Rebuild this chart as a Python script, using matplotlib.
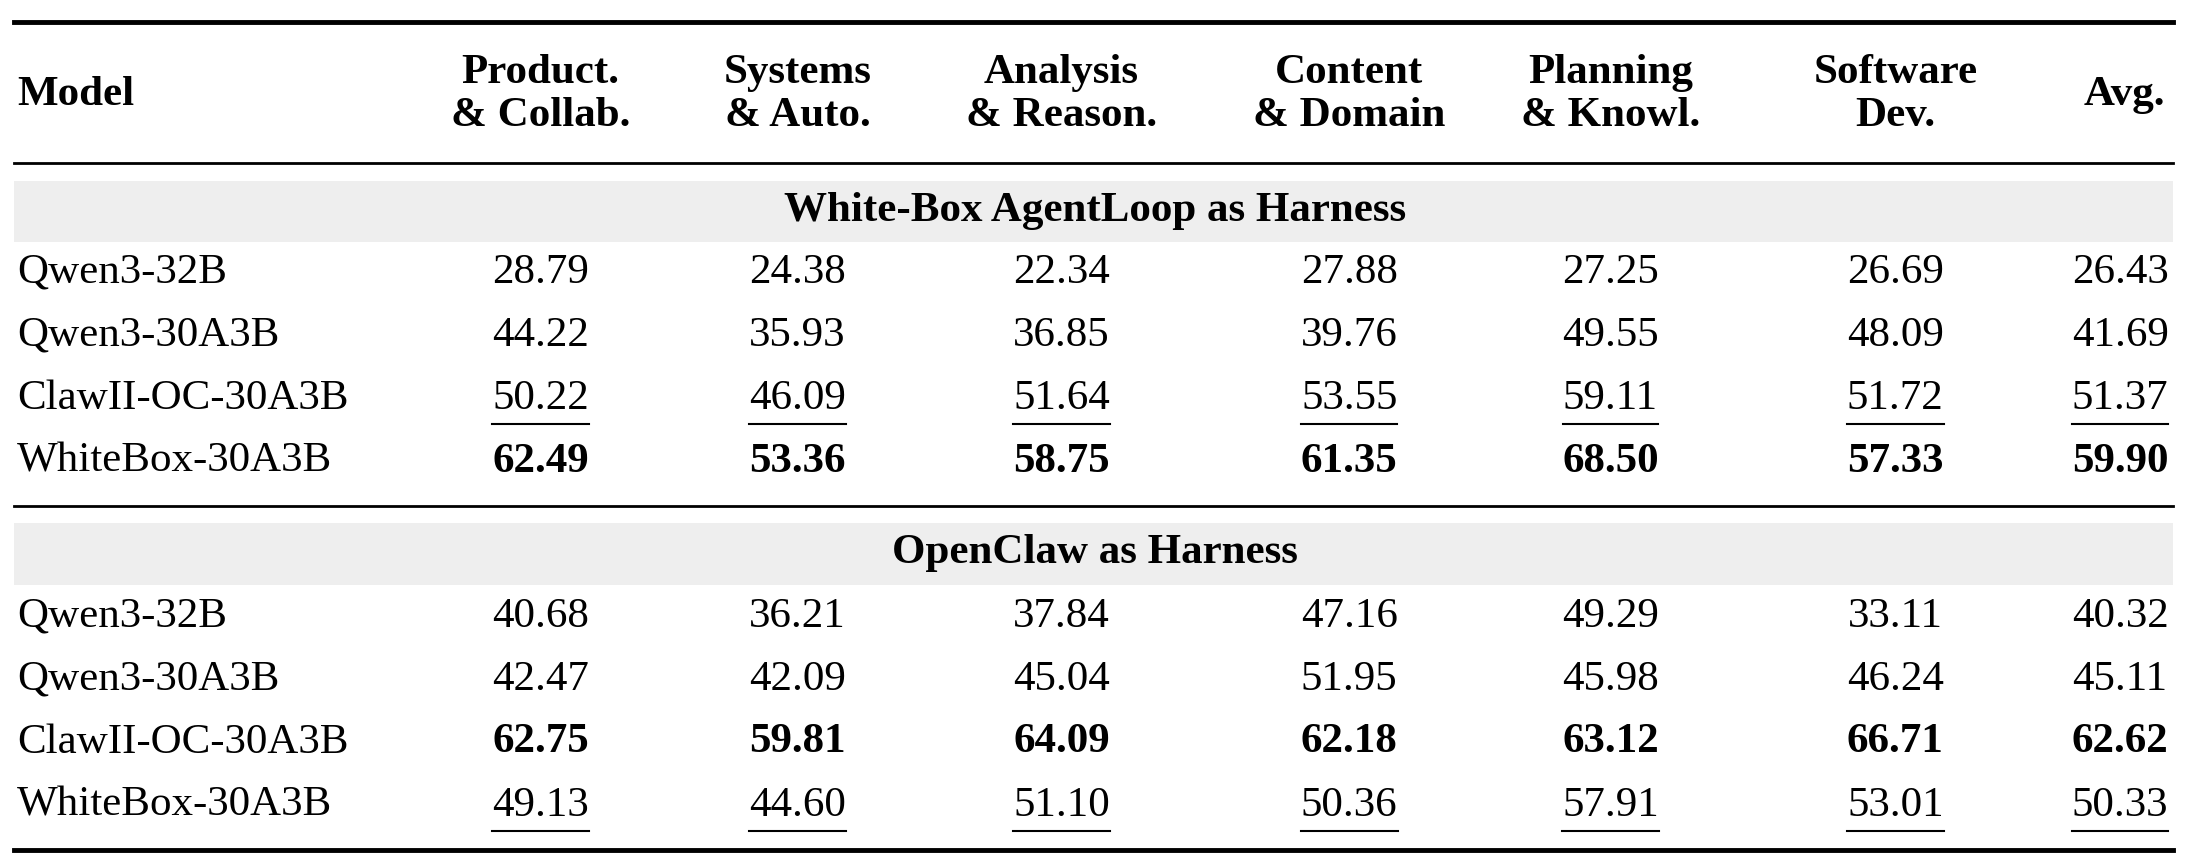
import matplotlib
matplotlib.use("Agg")
import matplotlib.pyplot as plt

headers = ["Product.\n& Collab.", "Systems\n& Auto.", "Analysis\n& Reason.", "Content\n& Domain",
           "Planning\n& Knowl.", "Software\nDev.", "Avg."]
models = ["Qwen3-32B", "Qwen3-30A3B", "ClawII-OC-30A3B", "WhiteBox-30A3B"]
sections = ["White-Box AgentLoop as Harness", "OpenClaw as Harness"]
vals1 = [[28.79, 24.38, 22.34, 27.88, 27.25, 26.69, 26.43],
         [44.22, 35.93, 36.85, 39.76, 49.55, 48.09, 41.69],
         [50.22, 46.09, 51.64, 53.55, 59.11, 51.72, 51.37],
         [62.49, 53.36, 58.75, 61.35, 68.50, 57.33, 59.90]]
vals2 = [[40.68, 36.21, 37.84, 47.16, 49.29, 33.11, 40.32],
         [42.47, 42.09, 45.04, 51.95, 45.98, 46.24, 45.11],
         [62.75, 59.81, 64.09, 62.18, 63.12, 66.71, 62.62],
         [49.13, 44.60, 51.10, 50.36, 57.91, 53.01, 50.33]]
bold_rows = [3, 2]
under_rows = [2, 3]

plt.rcParams['font.family'] = ['Liberation Serif', 'DejaVu Serif']
fig = plt.figure(figsize=(21.9, 8.6), dpi=100)
ax = fig.add_axes([0, 0, 1, 1])
ax.set_xlim(0, 1568); ax.set_ylim(600, 0); ax.axis('off')
FS = 31
cx = [387, 571, 760, 966, 1153, 1357, 1518]
L, R = 10, 1556

ax.plot([L, R], [15, 15], color='k', lw=3.5)
ax.plot([L, R], [114, 114], color='k', lw=2)
ax.plot([L, R], [353, 353], color='k', lw=2)
ax.plot([L, R], [593, 593], color='k', lw=3.5)

ax.text(12, 66, "Model", fontsize=FS, fontweight='bold', ha='left', va='center')
for i, h in enumerate(headers):
    if i == 6:
        ax.text(1550, 66, h, fontsize=FS, fontweight='bold', ha='right', va='center')
    else:
        ax.text(cx[i], 66, h, fontsize=FS, fontweight='bold', ha='center', va='center',
                multialignment='center', linespacing=1.2)

under = []
for s, (title, vals, br, ur, ys) in enumerate([
        (sections[0], vals1, bold_rows[0], under_rows[0], [147, 190, 234, 278, 322]),
        (sections[1], vals2, bold_rows[1], under_rows[1], [386, 430, 474, 518, 562])]):
    ax.add_patch(plt.Rectangle((L, ys[0] - 21), R - L, 43, color='#eeeeee', lw=0))
    ax.text(784, ys[0], title, fontsize=FS, fontweight='bold', ha='center', va='center')
    for r, m in enumerate(models):
        y = ys[r + 1]
        ax.text(12, y, m, fontsize=FS, ha='left', va='center')
        for c, v in enumerate(vals[r]):
            t = ax.text(cx[c], y, f"{v:.2f}", fontsize=FS, ha='center', va='center',
                        fontweight='bold' if r == br else 'normal')
            if r == ur:
                under.append((t, y))

fig.canvas.draw()
inv = ax.transData.inverted()
for t, y in under:
    bb = t.get_window_extent()
    (x0, _), (x1, _) = inv.transform([(bb.x0, 0), (bb.x1, 0)])
    ax.plot([x0, x1], [y + 18, y + 18], color='k', lw=1.5)

fig.savefig("out.png", dpi=100)
